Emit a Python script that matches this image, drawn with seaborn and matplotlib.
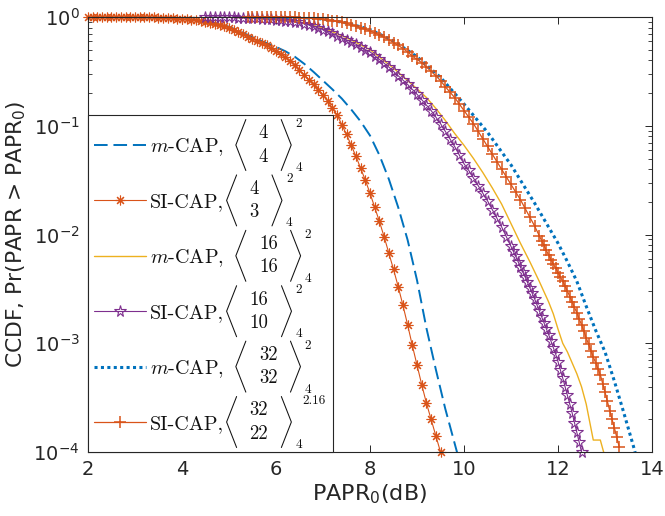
import numpy as np
import pandas as pd
import matplotlib
matplotlib.use("Agg")
import matplotlib.pyplot as plt
import seaborn as sns
from matplotlib.font_manager import FontProperties
from matplotlib.lines import Line2D

# ---------------- data (log10 of CCDF) ----------------
si43_x = [2.0, 2.1, 2.2, 2.3, 2.4, 2.5, 2.6, 2.7, 2.8, 2.9, 3.0, 3.1, 3.2, 3.3, 3.4, 3.5,
          3.6, 3.7, 3.8, 3.9, 4.0, 4.1, 4.2, 4.3, 4.4, 4.5, 4.6, 4.7, 4.8, 4.9, 5.0, 5.1,
          5.2, 5.3, 5.4, 5.5, 5.6, 5.7, 5.8, 5.9, 6.0, 6.1, 6.2, 6.3, 6.4, 6.5, 6.6, 6.7,
          6.8, 6.9, 7.0, 7.1, 7.2, 7.3, 7.4, 7.5, 7.6, 7.7, 7.8, 7.9, 8.0, 8.1, 8.2, 8.3,
          8.4, 8.5, 8.6, 8.7, 8.8, 8.9, 9.0, 9.1, 9.2, 9.3, 9.4, 9.5]
si43_log = [0, 0, 0, 0, 0, 0, 0, 0, 0, 0, 0, -0.001, -0.002, -0.003, -0.004, -0.006,
            -0.008, -0.010, -0.012, -0.015, -0.018, -0.021, -0.025, -0.030, -0.036, -0.043,
            -0.051, -0.060, -0.070, -0.085, -0.100, -0.120, -0.140, -0.160, -0.180, -0.200,
            -0.220, -0.240, -0.260, -0.285, -0.310, -0.340, -0.370, -0.400, -0.440, -0.490,
            -0.530, -0.580, -0.620, -0.670, -0.720, -0.770, -0.840, -0.900, -0.990, -1.080,
            -1.180, -1.280, -1.390, -1.500, -1.620, -1.750, -1.880, -2.020, -2.170, -2.320,
            -2.480, -2.650, -2.830, -3.020, -3.200, -3.380, -3.550, -3.700, -3.850, -4.000]

mcap44_x = [2.0, 2.2, 2.4, 2.6, 2.8, 3.0, 3.2, 3.4, 3.6, 3.8, 4.0, 4.2, 4.4, 4.6, 4.8, 5.0,
            5.2, 5.4, 5.6, 5.8, 6.0, 6.2, 6.4, 6.6, 6.8, 7.0, 7.2, 7.4, 7.6, 7.8, 8.0, 8.2,
            8.4, 8.6, 8.8, 9.0, 9.2, 9.4, 9.6, 9.8, 9.9]
mcap44_log = [0, 0, 0, 0, 0, 0, -0.002, -0.004, -0.007, -0.011, -0.017, -0.024, -0.034,
              -0.048, -0.066, -0.090, -0.125, -0.165, -0.205, -0.240, -0.275, -0.315, -0.365,
              -0.430, -0.505, -0.585, -0.665, -0.750, -0.850, -0.960, -1.090, -1.270, -1.490,
              -1.750, -2.050, -2.420, -2.860, -3.240, -3.600, -3.920, -4.080]

mcap1616_x = [4.5, 5.0, 5.5, 6.0, 6.5, 7.0, 7.5, 8.0, 8.5, 9.0, 9.2, 9.4, 9.6, 9.8, 10.0,
              10.2, 10.4, 10.6, 10.8, 11.0, 11.2, 11.4, 11.6, 11.8, 11.9, 12.0, 12.1, 12.2,
              12.3, 12.4, 12.5, 12.6, 12.7, 12.75, 12.9, 12.97, 13.0]
mcap1616_log = [0, -0.003, -0.009, -0.022, -0.045, -0.100, -0.190, -0.300, -0.470, -0.660,
                -0.740, -0.840, -0.950, -1.070, -1.180, -1.300, -1.430, -1.570, -1.720, -1.900,
                -2.080, -2.250, -2.430, -2.620, -2.730, -2.870, -3.000, -3.080, -3.180, -3.280,
                -3.400, -3.560, -3.780, -3.890, -3.890, -4.000, -4.060]

si1610_x = [4.5, 4.6, 4.7, 4.8, 4.9, 5.0, 5.1, 5.2, 5.3, 5.4, 5.5, 5.6, 5.7, 5.8, 5.9, 6.0,
            6.1, 6.2, 6.3, 6.4, 6.5, 6.6, 6.7, 6.8, 6.9, 7.0, 7.1, 7.2, 7.3, 7.4, 7.5, 7.6,
            7.7, 7.8, 7.9, 8.0, 8.1, 8.2, 8.3, 8.4, 8.5, 8.6, 8.7, 8.8, 8.9, 9.0, 9.1, 9.2,
            9.3, 9.4, 9.5, 9.6, 9.7, 9.8, 9.9, 10.0, 10.1, 10.2, 10.3, 10.4, 10.5, 10.6, 10.7,
            10.8, 10.9, 11.0, 11.05, 11.1, 11.15, 11.2, 11.25, 11.3, 11.35, 11.4, 11.45, 11.5,
            11.55, 11.6, 11.65, 11.7, 11.75, 11.8, 11.85, 11.9, 11.95, 12.0, 12.05, 12.1,
            12.15, 12.2, 12.25, 12.3, 12.35, 12.4, 12.45, 12.5]
si1610_log = [0, 0, 0, -0.001, -0.002, -0.003, -0.004, -0.005, -0.007, -0.008, -0.010,
              -0.012, -0.014, -0.017, -0.021, -0.025, -0.029, -0.033, -0.038, -0.044, -0.050,
              -0.060, -0.072, -0.085, -0.100, -0.115, -0.130, -0.150, -0.170, -0.190, -0.210,
              -0.230, -0.250, -0.275, -0.300, -0.320, -0.355, -0.390, -0.425, -0.460, -0.500,
              -0.540, -0.580, -0.620, -0.665, -0.710, -0.760, -0.810, -0.860, -0.920, -0.980,
              -1.050, -1.120, -1.190, -1.270, -1.350, -1.410, -1.480, -1.550, -1.620, -1.690,
              -1.770, -1.850, -1.930, -2.020, -2.110, -2.155, -2.200, -2.250, -2.300, -2.345,
              -2.390, -2.440, -2.490, -2.540, -2.590, -2.645, -2.700, -2.755, -2.810, -2.865,
              -2.920, -2.980, -3.040, -3.100, -3.170, -3.245, -3.320, -3.400, -3.480, -3.560,
              -3.640, -3.730, -3.820, -3.910, -4.000]

mcap3232_x = [5.4, 6.0, 6.5, 7.0, 7.5, 8.0, 8.5, 9.0, 9.5, 10.0, 10.5, 11.0, 11.5, 12.0,
              12.2, 12.4, 12.6, 12.8, 13.0, 13.2, 13.4, 13.6, 13.7]
mcap3232_log = [0, 0, -0.004, -0.019, -0.054, -0.115, -0.220, -0.365, -0.555, -0.800, -1.060,
                -1.360, -1.710, -2.080, -2.250, -2.430, -2.660, -2.880, -3.080, -3.350, -3.640,
                -3.940, -4.100]

si3222_x = [5.4, 5.5, 5.6, 5.7, 5.8, 5.9, 6.0, 6.1, 6.2, 6.3, 6.4, 6.5, 6.6, 6.7, 6.8, 6.9,
            7.0, 7.1, 7.2, 7.3, 7.4, 7.5, 7.6, 7.7, 7.8, 7.9, 8.0, 8.1, 8.2, 8.3, 8.4, 8.5,
            8.6, 8.7, 8.8, 8.9, 9.0, 9.1, 9.2, 9.3, 9.4, 9.5, 9.6, 9.7, 9.8, 9.9, 10.0, 10.1,
            10.2, 10.3, 10.4, 10.5, 10.6, 10.7, 10.8, 10.9, 11.0, 11.1, 11.2, 11.3, 11.4, 11.5,
            11.6, 11.65, 11.7, 11.75, 11.8, 11.85, 11.9, 11.95, 12.0, 12.05, 12.1, 12.15, 12.2,
            12.25, 12.3, 12.35, 12.4, 12.45, 12.5, 12.55, 12.6, 12.65, 12.7, 12.75, 12.8,
            12.85, 12.9, 12.95, 13.0, 13.05, 13.1, 13.15, 13.2, 13.25, 13.3]
si3222_log = [0, 0, 0, 0, 0, 0, 0, -0.001, -0.002, -0.003, -0.004, -0.005, -0.007, -0.010,
              -0.013, -0.017, -0.021, -0.026, -0.032, -0.040, -0.048, -0.058, -0.070, -0.083,
              -0.097, -0.112, -0.128, -0.145, -0.165, -0.187, -0.210, -0.235, -0.260, -0.290,
              -0.320, -0.360, -0.390, -0.420, -0.460, -0.500, -0.540, -0.585, -0.640, -0.690,
              -0.740, -0.800, -0.860, -0.920, -0.980, -1.050, -1.120, -1.190, -1.260, -1.330,
              -1.400, -1.470, -1.540, -1.610, -1.680, -1.760, -1.840, -1.920, -2.010, -2.055,
              -2.100, -2.145, -2.190, -2.230, -2.270, -2.310, -2.350, -2.390, -2.430, -2.475,
              -2.520, -2.570, -2.620, -2.670, -2.720, -2.775, -2.830, -2.890, -2.950, -3.010,
              -3.070, -3.125, -3.180, -3.235, -3.290, -3.370, -3.450, -3.535, -3.620, -3.700,
              -3.780, -3.865, -3.950]

legend_names = [r"$m$-CAP,", "SI-CAP,", r"$m$-CAP,", "SI-CAP,", r"$m$-CAP,", "SI-CAP,"]
legend_top = ["4", "4", "16", "16", "32", "32"]
legend_bottom = ["4", "3", "16", "10", "32", "22"]
legend_sup = ["2", "2", "2", "2", "2", "2.16"]
legend_sub = ["4", "4", "4", "4", "4", "4"]
x_ticks = [2, 4, 6, 8, 10, 12, 14]

# ---------------- styling ----------------
BLUE = "#0072BD"
ORANGE = "#D95319"
YELLOW = "#EDB120"
PURPLE = "#7E2F8E"
INK = "#262626"
LEG_INK = "#111111"

sns.set_style("ticks")
plt.rcParams["font.family"] = ["DejaVu Sans"]
plt.rcParams["mathtext.fontset"] = "dejavusans"
plt.rcParams["text.color"] = INK
plt.rcParams["axes.labelcolor"] = INK
plt.rcParams["xtick.color"] = INK
plt.rcParams["ytick.color"] = INK

fig = plt.figure(figsize=(6.65, 5.16), dpi=100)
ax = fig.add_axes([0.1323, 0.124, 0.8482, 0.843])

series = [
    (mcap44_x, mcap44_log, dict(color=BLUE, linewidth=1.4, linestyle="--"), (7, 3), True),
    (si43_x, si43_log, dict(color=ORANGE, linewidth=0.8, marker=(8, 2, 0), markersize=7,
                            markeredgecolor=ORANGE, markeredgewidth=0.8), None, False),
    (mcap1616_x, mcap1616_log, dict(color=YELLOW, linewidth=1.0), None, True),
    (si1610_x, si1610_log, dict(color=PURPLE, linewidth=0.8, marker="*", markersize=8.5,
                                markerfacecolor="none", markeredgecolor=PURPLE,
                                markeredgewidth=0.8), None, False),
    (mcap3232_x, mcap3232_log, dict(color=BLUE, linewidth=2.2, linestyle=":"), (1, 1.1), True),
    (si3222_x, si3222_log, dict(color=ORANGE, linewidth=0.9, marker="+", markersize=9,
                                markeredgecolor=ORANGE, markeredgewidth=1.1), None, False),
]

handles = []
for xs, logs, kw, dashes, clip in series:
    df = pd.DataFrame({"x": xs, "p": np.power(10.0, np.array(logs))})
    sns.lineplot(data=df, x="x", y="p", ax=ax, legend=False, sort=False,
                 estimator=None, **kw)
    ln = ax.lines[-1]
    if dashes is not None:
        ln.set_dashes(dashes)
    ln.set_clip_on(clip)
    handles.append(ln)

ax.set_yscale("log")
ax.set_xlim(2, 14)
ax.set_ylim(1e-4, 1)
ax.set_xticks(x_ticks)
ax.set_xticklabels([str(t) for t in x_ticks])
ax.tick_params(axis="both", which="major", direction="in", length=5, width=0.7,
               top=True, right=True, labelsize=14, pad=6)
ax.tick_params(axis="y", which="minor", direction="in", length=3, width=0.6,
               left=True, right=True)
ax.tick_params(axis="x", which="minor", bottom=False, top=False)
for s in ax.spines.values():
    s.set_color(INK)
    s.set_linewidth(0.8)

ax.set_xlabel(r"PAPR$_0$(dB)", fontsize=15.5, labelpad=2)
ax.set_ylabel(r"CCDF, Pr(PAPR > PAPR$_0$)", fontsize=15.5, labelpad=4)

# ---------------- legend ----------------
LEG_FS = 14.5
PX2PT = 72.0 / fig.dpi
fs_px = LEG_FS / PX2PT
ROW_H = 48.0          # row height in pixels
ROW_PITCH = 55.4      # distance between row centres in pixels

leg = ax.legend(handles, legend_names, loc="lower left",
                bbox_to_anchor=(0.0, 0.0, 0.434, 0.77), mode="expand",
                borderaxespad=0.0,
                prop=FontProperties(family="cmr10", size=LEG_FS, math_fontfamily="cm"),
                handlelength=52.0 / fs_px, handletextpad=4.0 / fs_px,
                borderpad=6.0 / fs_px, labelspacing=(ROW_PITCH - ROW_H) / fs_px,
                numpoints=1, frameon=True, fancybox=False,
                framealpha=1.0, edgecolor=INK)
leg.get_frame().set_linewidth(0.8)
for t in leg.get_texts():
    t.set_color(LEG_INK)

# make every legend row tall, keeping line and text at the row centre
row_h_pt = ROW_H * PX2PT
for col in leg._legend_handle_box.get_children():
    for row in col.get_children():
        da = row.get_children()[0]
        centre = (da.height - da.ydescent) / 2.0
        da.ydescent = row_h_pt / 2.0 - centre
        da.height = row_h_pt

fig.canvas.draw()
renderer = fig.canvas.get_renderer()
W, H = fig.bbox.width, fig.bbox.height

# fit the axis-label lengths to the reference (pixels)
ylab = ax.yaxis.label
ylab.set_fontsize(ylab.get_fontsize() * 268.0 / ylab.get_window_extent(renderer).height)
xlab = ax.xaxis.label
xlab.set_fontsize(xlab.get_fontsize() * 115.0 / xlab.get_window_extent(renderer).width)


def ftext(x, y, s, size, ha="left"):
    return fig.text(x / W, y / H, s, fontsize=size, ha=ha, va="baseline",
                    family="cmr10", math_fontfamily="cm", color=LEG_INK, zorder=20)


def fline(xs, ys):
    fig.add_artist(Line2D(np.array(xs) / W, np.array(ys) / H, transform=fig.transFigure,
                          color=LEG_INK, linewidth=0.75, zorder=20,
                          solid_joinstyle="miter"))


NUM_FS = 13.5
SCRIPT_FS = 9.5
for i, name in enumerate(legend_names):
    tb = leg.get_texts()[i].get_window_extent(renderer)
    hl = leg.legend_handles[i]
    yc = hl.get_transform().transform((hl.get_xdata()[0], hl.get_ydata()[0]))[1]
    xl = tb.x1 + (12.0 if name.startswith("$m$") else 2.5)
    t_top = ftext(0, 0, legend_top[i], NUM_FS, ha="center")
    t_bot = ftext(0, 0, legend_bottom[i], NUM_FS, ha="center")
    wmax = max(t_top.get_window_extent(renderer).width,
               t_bot.get_window_extent(renderer).width)
    tip_l = xl + 10.0
    cx = tip_l + 13.0 + wmax / 2.0
    tip_r = cx + wmax / 2.0 + 13.0
    xr = tip_r + 10.0
    t_top.set_position((cx / W, (yc + 6.7) / H))
    t_bot.set_position((cx / W, (yc - 16.6) / H))
    fline([tip_l, xl, tip_l], [yc + 25.5, yc, yc - 25.5])
    fline([tip_r, xr, tip_r], [yc + 25.5, yc, yc - 25.5])
    sup_dx = 4.0 if len(legend_sup[i]) == 1 else 11.0
    ftext(xr + sup_dx, yc + 18.0, legend_sup[i], SCRIPT_FS)
    ftext(xr + 4.0, yc - 26.0, legend_sub[i], SCRIPT_FS)

fig.savefig("out.png", dpi=100)
